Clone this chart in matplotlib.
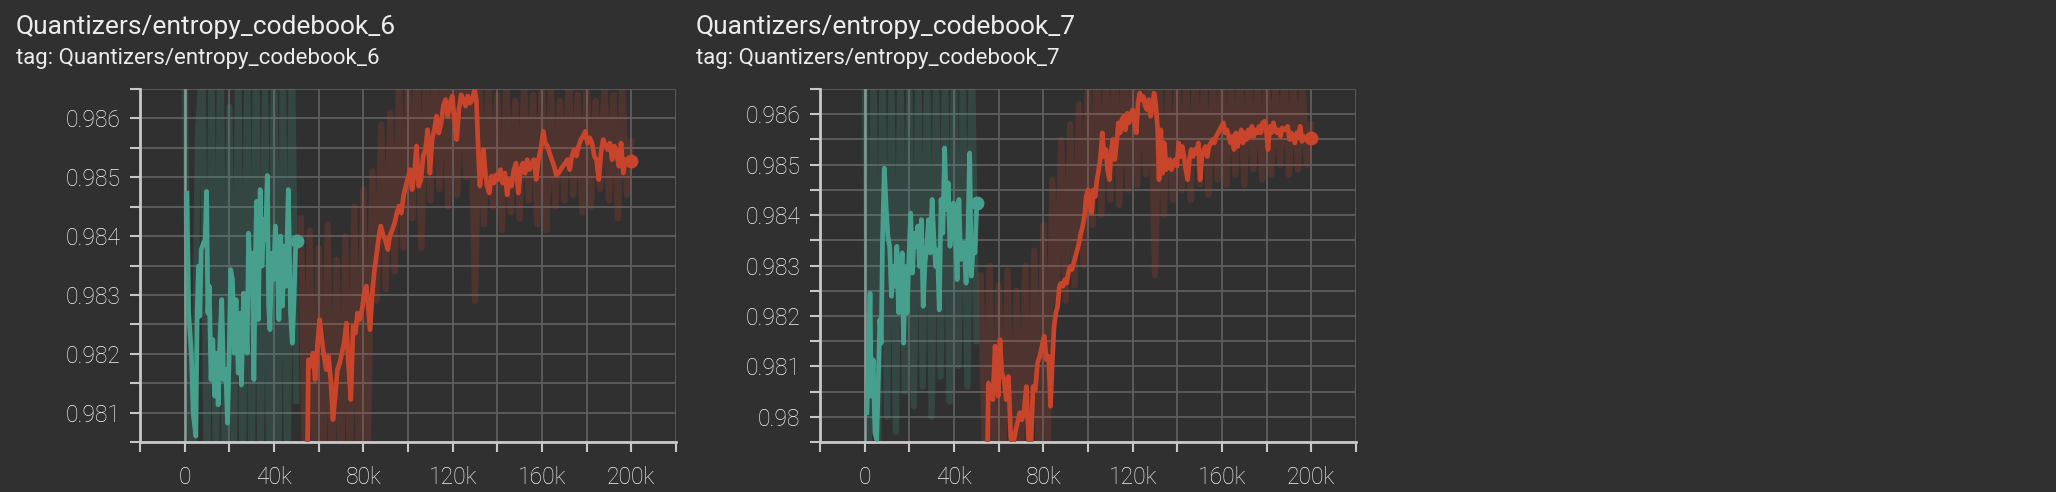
import numpy as np
import matplotlib.pyplot as plt
from matplotlib.ticker import FixedLocator, FuncFormatter

plt.rcParams['font.family'] = ['Roboto', 'DejaVu Sans']

bg = '#303030'
teal = '#47a08d'
orange = '#c8442a'
txt = '#ececec'
axis_col = '#c8c8c8'
grid_col = '#5e5e5e'

titles = ['Quantizers/entropy_codebook_6', 'Quantizers/entropy_codebook_7']

# steps are in thousands
# raw (unsmoothed) points, shared step positions
raw_teal_x = [0, 2, 4, 6, 8, 10, 12, 14, 16, 18, 20, 22, 24, 26, 28, 30, 32, 34, 36, 38, 40, 42, 44, 46, 48, 50]
raw_orange_x = [52, 54, 56, 58, 60, 62, 64, 66, 68, 70, 72, 74, 76, 78, 80, 82, 84, 86, 88, 90,
                92, 94, 96, 98, 100, 102, 104, 106, 108, 110, 112, 114, 116, 118, 120, 122, 124, 126, 128, 130,
                132, 134, 136, 138, 140, 142, 144, 146, 148, 150, 152, 154, 156, 158, 160, 162, 164, 166, 168, 170,
                172, 174, 176, 178, 180, 182, 184, 186, 188, 190, 192, 194, 196, 198, 200]

# ---- codebook 6 ----
cb6_raw_teal = [0.9872, 0.9808, 0.9800, 0.9858, 0.9870, 0.9795, 0.9868, 0.9800, 0.9875, 0.9798,
                0.9862, 0.9802, 0.9870, 0.9796, 0.9868, 0.9800, 0.9874, 0.9799, 0.9866, 0.9797,
                0.9871, 0.9803, 0.9869, 0.9796, 0.9872, 0.9812]
cb6_raw_orange = [0.9843, 0.9800, 0.9841, 0.9798, 0.9838, 0.9800, 0.9842, 0.9797, 0.9836, 0.9799,
                  0.9840, 0.9800, 0.9845, 0.9801, 0.9848, 0.9803, 0.9851, 0.9829, 0.9859, 0.9831,
                  0.9861, 0.9834, 0.9866, 0.9838, 0.9868, 0.9843, 0.9870, 0.9838, 0.9869, 0.9846,
                  0.9871, 0.9848, 0.9870, 0.9845, 0.9872, 0.9847, 0.9869, 0.9850, 0.9871, 0.9829,
                  0.9868, 0.9842, 0.9866, 0.9845, 0.9864, 0.9841, 0.9866, 0.9844, 0.9863, 0.9843,
                  0.9866, 0.9846, 0.9864, 0.9842, 0.9867, 0.9841, 0.9865, 0.9845, 0.9863, 0.9846,
                  0.9867, 0.9847, 0.9864, 0.9844, 0.9866, 0.9845, 0.9863, 0.9848, 0.9866, 0.9846,
                  0.9864, 0.9843, 0.9865, 0.9847, 0.9856]

cb6_teal_x = [1.0, 1.8, 3.0, 3.8, 5.0, 5.6, 6.2, 6.8, 7.4, 8.4, 9.2, 9.8, 10.4, 11.0, 11.8, 12.6,
              13.4, 14.2, 15.0, 15.8, 16.6, 17.4, 18.4, 19.2, 20.0, 20.6, 21.4, 22.2, 23.0, 24.0,
              24.8, 25.4, 26.4, 27.2, 28.0, 28.6, 29.4, 30.2, 31.0, 31.6, 32.2, 33.0, 33.8, 34.6,
              35.4, 36.2, 37.0, 37.6, 38.2, 39.0, 39.8, 40.6, 41.4, 42.2, 43.0, 43.8, 44.6, 45.4,
              46.4, 47.4, 48.2, 49.0, 49.8, 50.2]
cb6_teal_y = [0.98473, 0.98269, 0.98201, 0.98099, 0.98060, 0.98269, 0.98349, 0.98264, 0.98377, 0.98388,
              0.98394, 0.98476, 0.98269, 0.98315, 0.98156, 0.98224, 0.98128, 0.98201, 0.98113, 0.98224,
              0.98292, 0.98156, 0.98173, 0.98082, 0.98213, 0.98343, 0.98326, 0.98201, 0.98292, 0.98167,
              0.98269, 0.98147, 0.98303, 0.98269, 0.98201, 0.98405, 0.98326, 0.98371, 0.98156, 0.98349,
              0.98459, 0.98258, 0.98479, 0.98349, 0.98428, 0.98394, 0.98503, 0.98281, 0.98241, 0.98371,
              0.98326, 0.98417, 0.98371, 0.98258, 0.98400, 0.98281, 0.98383, 0.98315, 0.98479, 0.98269,
              0.98218, 0.98298, 0.98394, 0.98391]

cb6_orange_x = [55.0, 55.4, 56.4, 57.4, 58.4, 59.4, 60.4, 61.4, 62.4, 63.4, 64.4, 65.4, 66.4, 67.4,
                68.4, 69.4, 70.4, 71.4, 72.4, 73.4, 74.4, 75.4, 76.4, 77.4, 78.4, 79.4, 80.4, 81.4, 82.4,
                83.0, 84.0, 85.0, 86.0, 87.0, 87.8, 89.0, 89.8, 91.0, 91.8, 93.0, 94.0, 95.0, 96.0, 97.0,
                98.0, 99.0, 99.8, 101.0, 101.8, 103.0,
                103.8, 104.8, 105.8, 106.8, 107.8, 108.8, 109.8, 110.8, 111.8, 112.8, 113.8, 114.8, 115.8,
                116.8, 117.8, 118.8, 119.8, 120.8, 121.8, 122.8, 123.8, 124.8, 125.8, 126.8, 127.8, 128.8,
                129.8, 130.6, 131.4, 132.2, 133.0, 133.8, 134.6, 135.4,
                136.4, 137.4, 138.4, 139.4, 140.4, 141.4, 142.4, 143.4, 144.4, 145.4, 146.4, 147.4, 148.4,
                149.4, 150.4, 151.4, 152.4, 153.4, 154.4, 155.4, 156.4, 157.4, 158.4, 159.4, 160.6,
                161.4, 162.4, 163.4, 164.4, 165.4, 166.4, 167.4, 168.4, 169.4, 170.4, 171.4, 172.4, 173.4,
                174.4, 175.4, 176.4, 177.4, 178.4, 179.4, 180.4, 181.4, 182.4, 183.4, 184.4, 185.4, 186.4,
                187.4, 188.4, 189.4, 190.4, 191.4, 192.4, 193.4, 194.4, 195.4, 196.4, 197.4, 198.4, 200.0]
cb6_orange_y = [0.98030, 0.98190, 0.98179, 0.98201, 0.98156, 0.98213, 0.98258, 0.98224, 0.98196, 0.98173,
                0.98196, 0.98156, 0.98088, 0.98128, 0.98173, 0.98184, 0.98201, 0.98218, 0.98252, 0.98179,
                0.98122, 0.98247, 0.98235, 0.98269, 0.98258, 0.98275, 0.98303, 0.98315, 0.98269,
                0.98241, 0.98303, 0.98343, 0.98371, 0.98400, 0.98417, 0.98400, 0.98394, 0.98377, 0.98400,
                0.98411, 0.98422, 0.98439, 0.98451, 0.98439, 0.98468, 0.98485, 0.98496, 0.98513, 0.98479,
                0.98513,
                0.98553, 0.98485, 0.98496, 0.98536, 0.98547, 0.98581, 0.98507, 0.98564, 0.98581, 0.98604,
                0.98575, 0.98592, 0.98621, 0.98632, 0.98604, 0.98626, 0.98638, 0.98598, 0.98564, 0.98615,
                0.98640, 0.98632, 0.98621, 0.98638, 0.98626, 0.98632, 0.98649,
                0.98632, 0.98553, 0.98485, 0.98519, 0.98547, 0.98507, 0.98485,
                0.98473, 0.98502, 0.98490, 0.98504, 0.98496, 0.98513, 0.98490, 0.98507, 0.98470, 0.98496,
                0.98485, 0.98513, 0.98524, 0.98473, 0.98513, 0.98524, 0.98507, 0.98530, 0.98513, 0.98524,
                0.98530, 0.98496, 0.98530, 0.98547, 0.98578,
                0.98558, 0.98553, 0.98541, 0.98530, 0.98519, 0.98504, 0.98507, 0.98513, 0.98519, 0.98524,
                0.98530, 0.98513, 0.98536, 0.98547, 0.98536, 0.98553, 0.98564, 0.98570, 0.98578, 0.98558,
                0.98567, 0.98558, 0.98536, 0.98530, 0.98496, 0.98541, 0.98564, 0.98553, 0.98547, 0.98558,
                0.98530, 0.98553, 0.98541, 0.98519, 0.98558, 0.98507, 0.98530, 0.98524, 0.98527]

# ---- codebook 7 ----
cb7_raw_teal = [0.9870, 0.9795, 0.9868, 0.9790, 0.9872, 0.9800, 0.9866, 0.9797, 0.9870, 0.9805,
                0.9868, 0.9802, 0.9869, 0.9806, 0.9871, 0.9800, 0.9867, 0.9808, 0.9870, 0.9803,
                0.9869, 0.9810, 0.9868, 0.9806, 0.9872, 0.9815]
cb7_raw_orange = [0.9828, 0.9790, 0.9830, 0.9788, 0.9826, 0.9790, 0.9829, 0.9787, 0.9825, 0.9791,
                  0.9830, 0.9789, 0.9833, 0.9792, 0.9838, 0.9794, 0.9847, 0.9822, 0.9855, 0.9823,
                  0.9858, 0.9826, 0.9862, 0.9830, 0.9868, 0.9838, 0.9870, 0.9840, 0.9869, 0.9843,
                  0.9871, 0.9842, 0.9870, 0.9845, 0.9872, 0.9846, 0.9869, 0.9848, 0.9871, 0.9828,
                  0.9868, 0.9840, 0.9866, 0.9843, 0.9868, 0.9845, 0.9866, 0.9843, 0.9869, 0.9846,
                  0.9867, 0.9844, 0.9868, 0.9847, 0.9870, 0.9846, 0.9867, 0.9848, 0.9869, 0.9846,
                  0.9868, 0.9849, 0.9867, 0.9847, 0.9869, 0.9848, 0.9866, 0.9850, 0.9868, 0.9848,
                  0.9867, 0.9849, 0.9866, 0.9850, 0.9858]

cb7_teal_x = [1.0, 1.8, 2.4, 3.0, 3.8, 4.6, 5.4, 6.2, 6.8, 7.4, 8.0, 8.8, 9.6, 10.4, 11.2, 12.0,
              12.8, 13.6, 14.4, 15.2, 16.0, 16.8, 17.4, 18.2, 19.0, 19.8, 20.6, 21.4, 22.2, 23.0,
              23.8, 24.6, 25.4, 26.2, 27.0, 27.8, 28.6, 29.4, 30.2, 31.0, 31.8, 32.6, 33.4, 34.2,
              35.0, 35.8, 36.6, 37.4, 38.2, 39.0, 39.8, 40.6, 41.4, 42.2, 43.0, 43.8, 44.6, 45.4,
              46.2, 47.0, 47.8, 48.6, 49.4, 50.2]
cb7_teal_y = [0.98008, 0.98120, 0.98245, 0.98041, 0.98113, 0.97968, 0.97955, 0.98087, 0.98193, 0.98146,
              0.98351, 0.98493, 0.98417, 0.98358, 0.98338, 0.98239, 0.98298, 0.98259, 0.98338, 0.98206,
              0.98245, 0.98325, 0.98146, 0.98298, 0.98206, 0.98312, 0.98404, 0.98285, 0.98364, 0.98338,
              0.98378, 0.98298, 0.98391, 0.98219, 0.98305, 0.98338, 0.98391, 0.98325, 0.98431, 0.98351,
              0.98298, 0.98331, 0.98212, 0.98431, 0.98364, 0.98533, 0.98411, 0.98464, 0.98338, 0.98378,
              0.98424, 0.98364, 0.98272, 0.98431, 0.98312, 0.98338, 0.98345, 0.98265, 0.98351, 0.98523,
              0.98279, 0.98338, 0.98325, 0.98424]

cb7_orange_x = [55.0, 55.4, 56.4, 57.4, 58.4, 59.0, 59.8, 60.6, 61.4, 62.4, 63.4, 64.4, 65.4, 66.4,
                67.4, 68.4, 69.4, 70.4, 71.4, 72.4, 73.4, 74.4, 75.4, 76.4, 77.4, 78.4, 79.4, 80.4, 81.4,
                82.4, 83.2,
                84.0, 84.8, 85.6, 86.4, 87.2, 88.0, 88.8, 89.6, 90.4, 91.2, 92.0, 92.8, 93.6, 94.4, 95.2,
                96.0, 96.8, 97.6, 98.4, 99.2, 100.0, 100.8, 101.6, 102.4, 103.2, 104.0, 104.8, 105.6, 106.4,
                107.2, 108.0, 108.8, 109.6, 110.4, 111.2, 112.0, 112.8, 113.6, 114.4, 115.2, 116.0, 116.8,
                117.6, 118.4, 119.2, 120.0, 120.8, 121.6, 122.4, 123.2, 124.0, 124.8, 125.6, 126.4, 127.2,
                128.0, 128.8, 129.6, 130.4, 131.2, 131.8,
                132.6, 133.4, 134.2, 135.0, 135.8, 136.6, 137.4, 138.2, 139.0, 139.8, 140.6, 141.4, 142.2,
                143.0, 143.8, 144.6, 145.4, 146.2, 147.0, 147.8, 148.6, 149.4, 150.2, 151.0, 151.8, 152.6,
                153.4, 154.2, 155.0, 155.8, 156.6, 157.4, 158.2, 159.0, 159.8, 160.6, 161.4, 162.2, 163.0,
                163.8, 164.6, 165.4, 166.2, 167.0, 167.8, 168.6, 169.4, 170.2, 171.0, 171.8, 172.6, 173.4,
                174.2, 175.0, 175.8, 176.6, 177.4, 178.2, 179.0, 179.8, 180.6, 181.4, 182.2, 183.0, 183.8,
                184.6, 185.4, 186.2, 187.0, 187.8, 188.6, 189.4, 190.2, 191.0, 191.8, 192.6, 193.4, 194.2,
                195.0, 195.8, 196.6, 197.4, 198.2, 200.0]
cb7_orange_y = [0.97935, 0.98067, 0.98054, 0.98034, 0.98140, 0.98093, 0.98041, 0.98153, 0.98087, 0.98074,
                0.98034, 0.98080, 0.97961, 0.97940, 0.97968, 0.97988, 0.98008, 0.97994, 0.98014, 0.98060,
                0.97955, 0.97940, 0.98060, 0.98054, 0.98107, 0.98120, 0.98140, 0.98160, 0.98113, 0.98120,
                0.98021,
                0.98107, 0.98179, 0.98206, 0.98219, 0.98259, 0.98265, 0.98259, 0.98272, 0.98265, 0.98285,
                0.98298, 0.98292, 0.98305, 0.98318, 0.98331, 0.98345, 0.98364, 0.98378, 0.98397, 0.98437,
                0.98450, 0.98417, 0.98404, 0.98450, 0.98437, 0.98470, 0.98490, 0.98516, 0.98563, 0.98516,
                0.98530, 0.98490, 0.98470, 0.98530, 0.98550, 0.98510, 0.98543, 0.98583, 0.98563, 0.98589,
                0.98596, 0.98569, 0.98602, 0.98583, 0.98596, 0.98609, 0.98589, 0.98563, 0.98622, 0.98642,
                0.98629, 0.98635, 0.98616, 0.98609, 0.98629, 0.98596, 0.98616, 0.98642, 0.98616, 0.98569,
                0.98470,
                0.98569, 0.98483, 0.98543, 0.98490, 0.98497, 0.98510, 0.98490, 0.98503, 0.98510, 0.98497,
                0.98543, 0.98516, 0.98536, 0.98516, 0.98490, 0.98470, 0.98510, 0.98530, 0.98516, 0.98530,
                0.98523, 0.98543, 0.98470, 0.98516, 0.98530, 0.98536, 0.98516, 0.98536, 0.98543, 0.98550,
                0.98543, 0.98556, 0.98563, 0.98569, 0.98576, 0.98583, 0.98563, 0.98569, 0.98556, 0.98543,
                0.98556, 0.98530, 0.98563, 0.98536, 0.98556, 0.98569, 0.98543, 0.98563, 0.98550, 0.98569,
                0.98556, 0.98576, 0.98556, 0.98569, 0.98563, 0.98576, 0.98563, 0.98583, 0.98586, 0.98569,
                0.98530, 0.98576, 0.98563, 0.98583, 0.98569, 0.98563, 0.98569, 0.98556, 0.98573, 0.98569,
                0.98569, 0.98576, 0.98550, 0.98563, 0.98553, 0.98543, 0.98563, 0.98553, 0.98576, 0.98546,
                0.98556, 0.98550, 0.98553, 0.98553]

panels = [
    dict(left=140, ylim=(0.9805, 0.9865), raw_t=cb6_raw_teal, raw_o=cb6_raw_orange,
         tx=cb6_teal_x, ty=cb6_teal_y, ox=cb6_orange_x, oy=cb6_orange_y, title=titles[0], tleft=16),
    dict(left=820, ylim=(0.9795, 0.9865), raw_t=cb7_raw_teal, raw_o=cb7_raw_orange,
         tx=cb7_teal_x, ty=cb7_teal_y, ox=cb7_orange_x, oy=cb7_orange_y, title=titles[1], tleft=696),
]

W, H = 2056, 492
fig = plt.figure(figsize=(W / 100, H / 100), dpi=100, facecolor=bg)


def xfmt(v, pos):
    v = int(round(v))
    if v % 40 != 0 or v < 0:
        return ''
    return '0' if v == 0 else '%dk' % v


def yfmt(v, pos):
    m = v * 1000
    if abs(m - round(m)) > 1e-6:
        return ''
    return ('%.3f' % v).rstrip('0')


for p in panels:
    ax = fig.add_axes([p['left'] / W, 50 / H, 536 / W, 353 / H])
    ax.set_facecolor(bg)

    # faint raw series, drawn wide so the swings fill a band
    ax.plot(raw_teal_x, p['raw_t'], color=teal, alpha=0.2, lw=4.5, zorder=2)
    ax.plot(raw_orange_x, p['raw_o'], color=orange, alpha=0.2, lw=4.5, zorder=2)
    ax.axvline(0, color='#8d9c98', lw=1.8, zorder=1.6)

    ax.plot(p['tx'], p['ty'], color=teal, lw=3.4, zorder=3)
    ax.plot(p['ox'], p['oy'], color=orange, lw=3.4, zorder=3)
    ax.plot(p['tx'][-1], p['ty'][-1], 'o', ms=9, color=teal, zorder=4)
    ax.plot(p['ox'][-1], p['oy'][-1], 'o', ms=9, color=orange, zorder=4)

    ax.set_xlim(-20, 220)
    ax.set_ylim(*p['ylim'])
    ax.xaxis.set_major_locator(FixedLocator(np.arange(-20, 221, 20)))
    ax.xaxis.set_major_formatter(FuncFormatter(xfmt))
    yt = np.round(np.arange(p['ylim'][0], p['ylim'][1] + 1e-7, 0.0005), 4)
    ax.yaxis.set_major_locator(FixedLocator(yt))
    ax.yaxis.set_major_formatter(FuncFormatter(yfmt))

    ax.grid(True, color=grid_col, lw=1.3)
    for s in ['top', 'right']:
        ax.spines[s].set_visible(False)
    for s in ['left', 'bottom']:
        ax.spines[s].set_color(axis_col)
        ax.spines[s].set_linewidth(2)
    ax.tick_params(axis='both', colors=axis_col, length=7.2, width=1.5, labelcolor='#f4f4f4', labelsize=16.5)
    ax.tick_params(axis='x', pad=10)
    ax.tick_params(axis='y', pad=7)
    for lab in ax.get_xticklabels() + ax.get_yticklabels():
        lab.set_fontweight('light')

    fig.text(p['tleft'] / W, 1 - 34 / H, p['title'], fontsize=19, color=txt, va='baseline')
    fig.text(p['tleft'] / W, 1 - 64 / H, 'tag: ' + p['title'], fontsize=16, color=txt, va='baseline')

fig.savefig('out.png', dpi=100, facecolor=bg)
